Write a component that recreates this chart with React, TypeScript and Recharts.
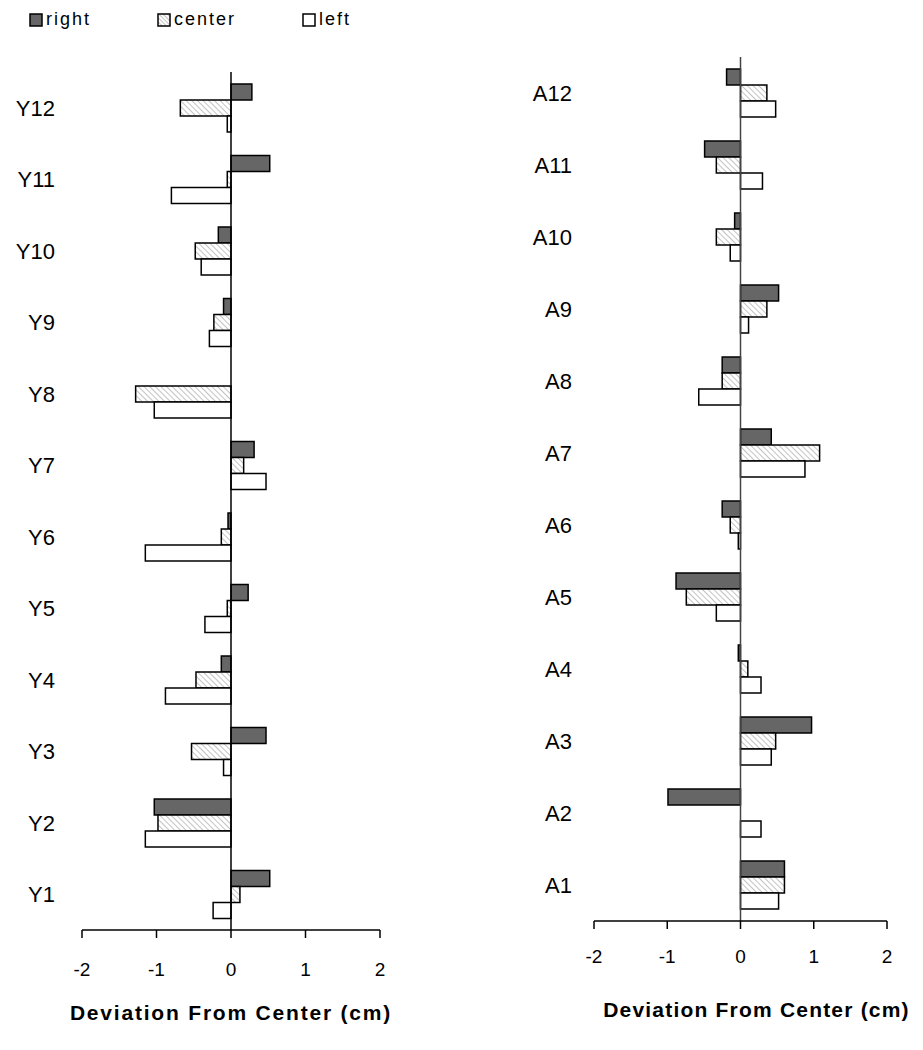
import React from "react";
import {Bar, BarChart, ReferenceLine, XAxis, YAxis} from "recharts";

const FONT = '"Liberation Sans", Arial, sans-serif';

// left panel, listed top to bottom
const yCategories = ["Y12", "Y11", "Y10", "Y9", "Y8", "Y7", "Y6", "Y5", "Y4", "Y3", "Y2", "Y1"];
const yRight = [0.28, 0.52, -0.17, -0.1, 0, 0.31, -0.04, 0.23, -0.13, 0.47, -1.03, 0.52];
const yCenter = [-0.68, -0.05, -0.48, -0.23, -1.28, 0.17, -0.13, -0.05, -0.47, -0.53, -0.98, 0.12];
const yLeft = [-0.05, -0.8, -0.4, -0.29, -1.03, 0.47, -1.15, -0.35, -0.88, -0.1, -1.15, -0.24];

// right panel, listed top to bottom
const aCategories = ["A12", "A11", "A10", "A9", "A8", "A7", "A6", "A5", "A4", "A3", "A2", "A1"];
const aRight = [-0.19, -0.49, -0.08, 0.52, -0.25, 0.42, -0.25, -0.88, -0.03, 0.97, -0.99, 0.6];
const aCenter = [0.36, -0.33, -0.33, 0.36, -0.25, 1.08, -0.14, -0.74, 0.1, 0.48, 0, 0.6];
const aLeft = [0.48, 0.3, -0.14, 0.11, -0.57, 0.88, -0.03, -0.33, 0.28, 0.42, 0.28, 0.52];

const xTicks = [-2, -1, 0, 1, 2];
const axisTitle = "Deviation From Center (cm)";

interface PanelProps {
    categories: string[];
    right: number[];
    center: number[];
    left: number[];
    margin: { top: number; right: number; bottom: number; left: number };
    yAxisWidth: number;
    labelGap: number;
    tickGap: number;
    titleOffset: number;
    titleDx: number;
    titleSpacing: number;
    zeroStroke: string;
    patternId: string;
}

const Panel: React.FC<PanelProps> = ({
    categories, right, center, left, margin, yAxisWidth, labelGap,
    tickGap, titleOffset, titleDx, titleSpacing, zeroStroke, patternId
}) => {
    const data = categories.map((name, i) => ({
        name,
        right: right[i],
        center: center[i],
        left: left[i]
    }));
    return (
        <BarChart width={460} height={1050} data={data} layout="vertical"
                  margin={margin} barGap={0} barSize={16}>
            <defs>
                <pattern id={patternId} width={4} height={4} patternUnits="userSpaceOnUse"
                         patternTransform="rotate(-45)">
                    <rect width={4} height={4} fill="#fff" />
                    <line x1={0} y1={0} x2={0} y2={4} stroke="#9a9a9a" strokeWidth={1.2} />
                </pattern>
            </defs>
            <XAxis type="number" domain={[-2, 2]} ticks={xTicks} height={60}
                   tickSize={8} tickMargin={tickGap}
                   axisLine={{stroke: "#000", strokeWidth: 1.5}}
                   tickLine={{stroke: "#000", strokeWidth: 1.5}}
                   tick={{fill: "#000", fontSize: 19, fontFamily: FONT}}
                   label={{
                       value: axisTitle, position: "bottom", offset: titleOffset, dx: titleDx,
                       fill: "#000", fontSize: 21, fontWeight: "bold", fontFamily: FONT,
                       letterSpacing: titleSpacing
                   }} />
            <YAxis type="category" dataKey="name" width={yAxisWidth}
                   axisLine={false} tickLine={false} tickSize={0} tickMargin={labelGap}
                   tick={{fill: "#000", fontSize: 22, fontFamily: FONT}} />
            <Bar dataKey="right" fill="#666666" stroke="#000" strokeWidth={1.5} isAnimationActive={false} />
            <Bar dataKey="center" fill={`url(#${patternId})`} stroke="#000" strokeWidth={1.5} isAnimationActive={false} />
            <Bar dataKey="left" fill="#ffffff" stroke="#000" strokeWidth={1.5} isAnimationActive={false} />
            <ReferenceLine x={0} stroke={zeroStroke} strokeWidth={1.5} />
        </BarChart>
    );
};

const Swatch: React.FC<{ kind: string }> = ({kind}) => (
    <svg width={14} height={14} style={{display: "block"}}>
        <defs>
            <pattern id="legendHatch" width={3} height={3} patternUnits="userSpaceOnUse"
                     patternTransform="rotate(-45)">
                <rect width={3} height={3} fill="#fff" />
                <line x1={0} y1={0} x2={0} y2={3} stroke="#888" strokeWidth={1} />
            </pattern>
        </defs>
        <rect x={1} y={1} width={12} height={12} stroke="#000" strokeWidth={1.5}
              fill={kind === "right" ? "#666666" : kind === "center" ? "url(#legendHatch)" : "#fff"} />
    </svg>
);

const legendItems = [
    {name: "right", x: 29},
    {name: "center", x: 157},
    {name: "left", x: 302}
];

export default function App() {
    return (
        <div style={{position: "absolute", left: 0, top: 0, width: 923, height: 1050,
                     background: "#fff", fontFamily: FONT}}>
            {legendItems.map(item => (
                <div key={item.name} style={{position: "absolute", left: item.x, top: 9,
                                             display: "flex", alignItems: "center", gap: 3,
                                             fontSize: 18, letterSpacing: 2, color: "#000"}}>
                    <Swatch kind={item.name} />
                    <span>{item.name}</span>
                </div>
            ))}
            <div style={{position: "absolute", left: 0, top: 0}}>
                <Panel categories={yCategories} right={yRight} center={yCenter} left={yLeft}
                       margin={{top: 72, right: 80, bottom: 60, left: 0}}
                       yAxisWidth={82} labelGap={27} tickGap={25}
                       titleOffset={15} titleDx={0} titleSpacing={1.8}
                       zeroStroke="#000" patternId="hatchY" />
            </div>
            <div style={{position: "absolute", left: 463, top: 0}}>
                <Panel categories={aCategories} right={aRight} center={aCenter} left={aLeft}
                       margin={{top: 57, right: 36, bottom: 69, left: 0}}
                       yAxisWidth={131} labelGap={22} tickGap={21}
                       titleOffset={21} titleDx={16} titleSpacing={1.2}
                       zeroStroke="#444" patternId="hatchA" />
            </div>
        </div>
    );
}
